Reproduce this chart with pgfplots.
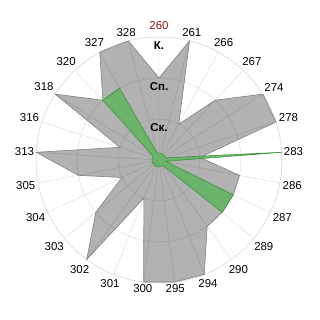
\documentclass[border=0pt]{standalone}
\usepackage{fontspec}
\setmainfont{Liberation Sans}
\usepackage{pgfplots}
\pgfplotsset{compat=1.18}
\usepgfplotslibrary{polar}
\definecolor{polyedge}{RGB}{128,128,128}
\definecolor{grfill}{RGB}{102,180,102}
\definecolor{gredge}{RGB}{60,150,60}
\definecolor{redlab}{RGB}{150,20,20}
\begin{document}
\begin{tikzpicture}
\begin{polaraxis}[
  scale only axis, width=246bp, height=246bp,
  xmin=0, xmax=360, ymin=0, ymax=3,
  clip=false,
  xtick={90,75.6,61.2,46.8,32.4,18,3.6,349.2,334.8,320.4,306,291.6,277.2,262.8,248.4,234,219.6,205.2,190.8,176.4,162,147.6,133.2,118.8,104.4},
  xticklabels={,261,266,267,274,278,283,286,287,289,290,294,295,300,301,302,303,304,305,313,316,318,320,327,328},
  ytick={1,2,3}, yticklabels={},
  xmajorgrids, ymajorgrids,
  major grid style={black!13, line width=0.5pt},
  axis line style={black!13, line width=0.5pt},
  y axis line style={draw=none},
  tick style={draw=none},
  xticklabel style={font=\fontsize{11.5}{13}\selectfont, inner sep=2pt},
]
\addplot[draw=polyedge, line width=0.6pt, fill=black, fill opacity=0.3] coordinates {
(90,2) (75.6,3) (61.2,1) (46.8,2) (32.4,3) (18,3) (3.6,1) (349.2,2) (334.8,2) (320.4,2)
(306,2) (291.6,3) (277.2,3) (262.8,3) (248.4,1) (234,3) (219.6,2) (205.2,1) (190.8,2) (176.4,3)
(162,1) (147.6,3) (133.2,2) (118.8,3) (104.4,3) (90,2)
} -- cycle;
\addplot[draw=gredge, line width=0.6pt, fill=grfill, fill opacity=0.92] coordinates {
(90,0.17) (75.6,0.17) (61.2,0.17) (46.8,0.17) (32.4,0.17) (18,0.17) (3.6,3) (349.2,0.17) (334.8,2) (320.4,2)
(306,0.17) (291.6,0.17) (277.2,0.17) (262.8,0.17) (248.4,0.17) (234,0.17) (219.6,0.17) (205.2,0.17) (190.8,0.17) (176.4,0.17)
(162,0.17) (147.6,0.17) (133.2,2) (118.8,2) (104.4,0.17) (90,0.17)
} -- cycle;
\node[font=\bfseries\fontsize{11.5}{13}\selectfont] at (axis cs:90,0.78) {Ск.};
\node[font=\bfseries\fontsize{11.5}{13}\selectfont] at (axis cs:90,1.78) {Сп.};
\node[font=\bfseries\fontsize{11.5}{13}\selectfont] at (axis cs:90,2.8) {К.};
\node[anchor=south, inner sep=0pt, yshift=7bp, text=redlab, font=\fontsize{11.5}{13}\selectfont] at (axis cs:90,3) {260};
\coordinate (c) at (axis cs:0,0);
\end{polaraxis}
\path ([shift={(-159bp,-160bp)}]c) rectangle ([shift={(161bp,160bp)}]c);
\end{tikzpicture}
\end{document}
